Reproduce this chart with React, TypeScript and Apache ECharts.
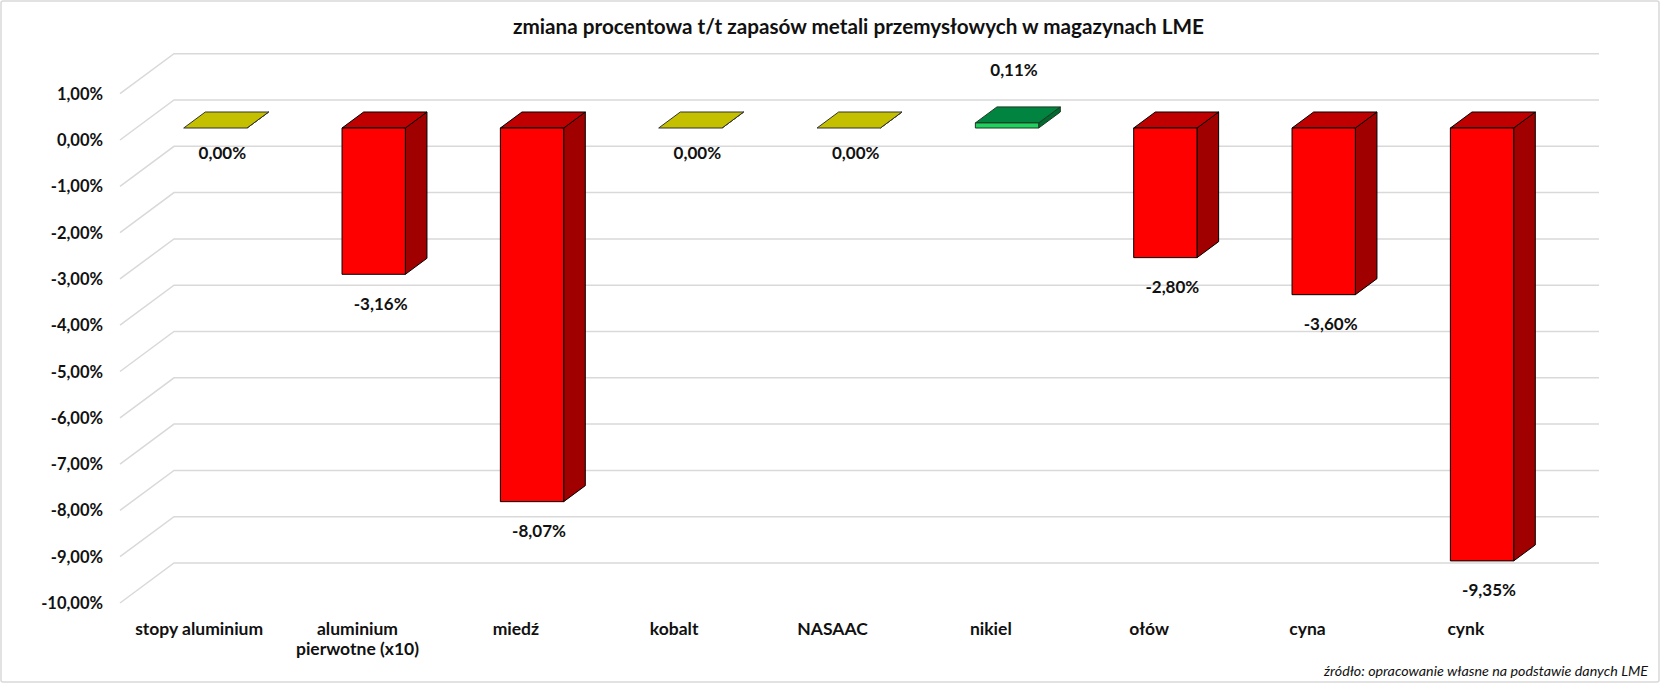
import React, { useEffect, useRef } from "react";
import * as echarts from "echarts";

const categories = [
  "stopy aluminium",
  "aluminium\npierwotne (x10)",
  "miedź",
  "kobalt",
  "NASAAC",
  "nikiel",
  "ołów",
  "cyna",
  "cynk",
];
const values = [0, -3.16, -8.07, 0, 0, 0.11, -2.8, -3.6, -9.35];
const gridTicks = [1, 0, -1, -2, -3, -4, -5, -6, -7, -8, -9, -10];
const titleText = "zmiana procentowa t/t zapasów metali przemysłowych w magazynach LME";
const sourceText = "źródło: opracowanie własne na podstawie danych LME";

const FONT = "Lato, 'Open Sans', sans-serif";
const DX = 54;
const DY = -40;
const D0 = 0.3;
const D1 = 0.7;

const fmt = (v: number) => v.toFixed(2).replace(".", ",") + "%";

export default function App() {
  const ref = useRef<HTMLDivElement>(null);
  useEffect(() => {
    if (!ref.current) return;
    const chart = echarts.init(ref.current, undefined, { renderer: "svg" });
    const option: any = {
      animation: false,
      backgroundColor: "#ffffff",
      grid: { left: 120, right: 116, top: 93.7, bottom: 84, containLabel: false },
      xAxis: {
        type: "category",
        data: categories,
        axisLine: { show: false },
        axisTick: { show: false },
        splitLine: { show: false },
        axisLabel: {
          interval: 0,
          margin: 15,
          fontFamily: FONT,
          fontWeight: "bold",
          fontSize: 17.5,
          lineHeight: 20,
          color: "#111",
        },
      },
      yAxis: {
        type: "value",
        min: -10,
        max: 1,
        interval: 1,
        axisLine: { show: false },
        axisTick: { show: false },
        splitLine: { show: false },
        axisLabel: {
          margin: 17,
          fontFamily: FONT,
          fontWeight: "bold",
          fontSize: 16.5,
          color: "#111",
          formatter: (v: number) => fmt(v),
        },
      },
      graphic: [
        {
          type: "rect",
          shape: { x: 1, y: 1, width: 1658, height: 681, r: 2 },
          style: { fill: "none", stroke: "#D9D9D9", lineWidth: 1.5 },
          silent: true,
        },
        {
          type: "text",
          x: 513,
          y: 26,
          style: {
            text: titleText,
            fontFamily: FONT,
            fontWeight: "bold",
            fontSize: 20.7,
            fill: "#111",
            textAlign: "left",
            textVerticalAlign: "middle",
          },
        },
        {
          type: "text",
          x: 1648,
          y: 670,
          style: {
            text: sourceText,
            fontFamily: FONT,
            fontStyle: "italic",
            fontSize: 14.3,
            fill: "#111",
            textAlign: "right",
            textVerticalAlign: "middle",
          },
        },
      ],
      series: [
        {
          type: "custom",
          name: "grid3d",
          z: 1,
          silent: true,
          data: gridTicks.map((t) => [0, t]),
          renderItem: (params: any, api: any) => {
            const cs = params.coordSys;
            const y = api.coord([0, api.value(1)])[1];
            const x0 = cs.x;
            const x1 = cs.x + cs.width;
            return {
              type: "polyline",
              shape: {
                points: [
                  [x0, y],
                  [x0 + DX, y + DY],
                  [x1 + DX, y + DY],
                ],
              },
              style: { fill: "none", stroke: "#D9D9D9", lineWidth: 1.5 },
            };
          },
        },
        {
          type: "custom",
          name: "bars",
          z: 3,
          data: values.map((v, i) => [i, v]),
          renderItem: (params: any, api: any) => {
            const i = api.value(0);
            const v = api.value(1);
            const p0 = api.coord([i, 0]);
            const pv = api.coord([i, v]);
            const bw = api.size([1, 0])[0] * 0.4;
            const fx = p0[0] + DX * D0;
            const fy0 = p0[1] + DY * D0;
            const fyv = pv[1] + DY * D0;
            const x0 = fx - bw / 2;
            const x1 = fx + bw / 2;
            const top = Math.min(fy0, fyv);
            const bot = Math.max(fy0, fyv);
            const ddx = DX * (D1 - D0);
            const ddy = DY * (D1 - D0);
            let front = "#FF0000";
            let topC = "#C00000";
            let side = "#A00000";
            let stroke = "#000000";
            if (v === 0) {
              front = "#C4C000";
              topC = "#C4C000";
              side = "#A09C00";
              stroke = "#333333";
            } else if (v > 0) {
              front = "#1FD15E";
              topC = "#00843F";
              side = "#006A30";
              stroke = "#1a3a22";
            }
            const children: any[] = [
              {
                type: "polygon",
                shape: {
                  points: [
                    [x1, top],
                    [x1 + ddx, top + ddy],
                    [x1 + ddx, bot + ddy],
                    [x1, bot],
                  ],
                },
                style: { fill: side, stroke, lineWidth: 1 },
              },
              {
                type: "polygon",
                shape: {
                  points: [
                    [x0, top],
                    [x1, top],
                    [x1 + ddx, top + ddy],
                    [x0 + ddx, top + ddy],
                  ],
                },
                style: { fill: topC, stroke, lineWidth: 1 },
              },
            ];
            if (bot - top > 0.01) {
              children.push({
                type: "rect",
                shape: { x: x0, y: top, width: bw, height: bot - top },
                style: { fill: front, stroke, lineWidth: 1 },
              });
            }
            const ly = v > 0 ? top - 53 : bot + (v === 0 ? 24 : 29);
            children.push({
              type: "text",
              x: fx + 7,
              y: ly,
              style: {
                text: fmt(v),
                fontFamily: FONT,
                fontWeight: "bold",
                fontSize: 17,
                fill: "#111",
                textAlign: "center",
                textVerticalAlign: "middle",
              },
            });
            return { type: "group", children };
          },
        },
      ],
    };
    chart.setOption(option);
    return () => chart.dispose();
  }, []);
  return (
    <div
      ref={ref}
      style={{ position: "fixed", left: 0, top: 0, width: 1661, height: 687, background: "#fff" }}
    />
  );
}
